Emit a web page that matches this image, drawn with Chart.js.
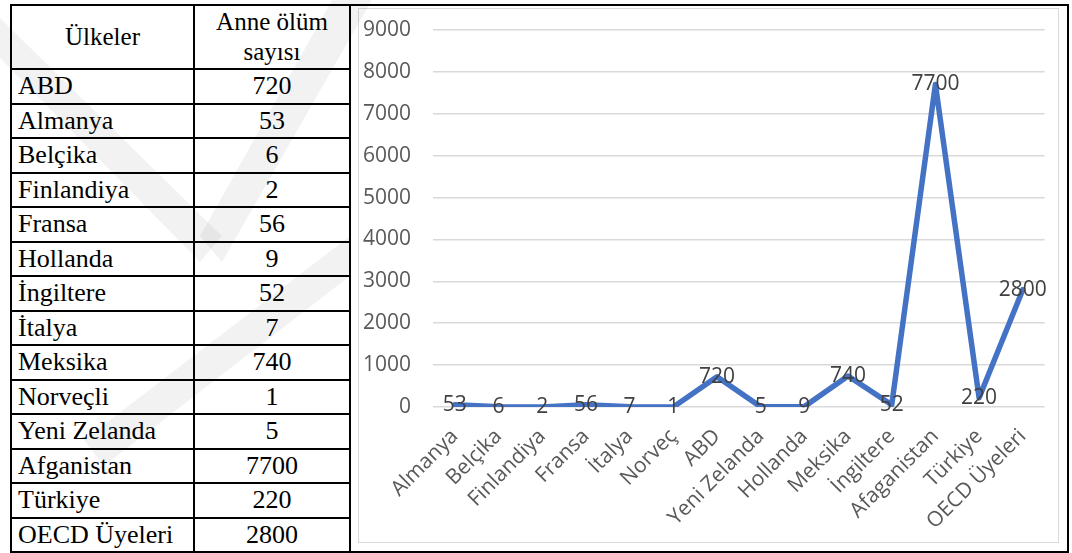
<!DOCTYPE html>
<html lang="tr">
<head>
<meta charset="utf-8">
<title>Anne ölüm sayısı</title>
<script src="https://cdn.jsdelivr.net/npm/chart.js@4"></script>
<style>
  html, body { margin: 0; padding: 0; background: #fff; }
  body { width: 1072px; height: 553px; position: relative; overflow: hidden; }
  #frame {
    position: absolute; left: 10px; top: 4px;
    border-collapse: collapse; table-layout: fixed;
    font-family: "Liberation Serif", "Times New Roman", serif;
    font-size: 26px; color: #000;
  }
  #frame td { border: 2px solid #000; padding: 0; line-height: 30px; overflow: hidden; white-space: nowrap; }
  #frame td.name { padding-left: 6px; }
  #frame td.num, #frame td.head { text-align: center; }
  #frame td.head { font-size: 25px; }
  #chart-box {
    position: absolute; left: 358px; top: 8px;
    width: 699px; height: 533px;
    border: 1px solid #d9d9d9; background: #fff;
  }
  #mark { position: absolute; left: 0; top: 0; pointer-events: none; }
</style>
</head>
<body>
<table id="frame">
  <colgroup><col style="width:183px"><col style="width:156px"><col style="width:718px"></colgroup>
  <tbody id="rows"></tbody>
</table>
<div id="chart-box"><canvas id="deathChart" width="699" height="533"></canvas></div>
<svg id="mark" width="1072" height="553">
  <g fill="#000" fill-opacity="0.05">
    <polygon points="0,18 0,58 200,262 222,236"/>
    <polygon points="332,0 372,0 222,262 200,236"/>
    <polygon points="350,236 350,276 104,466 84,440"/>
  </g>
</svg>

<script>
// table columns
const tableCountries = ['ABD', 'Almanya', 'Belçika', 'Finlandiya', 'Fransa', 'Hollanda', 'İngiltere',
  'İtalya', 'Meksika', 'Norveçli', 'Yeni Zelanda', 'Afganistan', 'Türkiye', 'OECD Üyeleri'];
const tableValues = [720, 53, 6, 2, 56, 9, 52, 7, 740, 1, 5, 7700, 220, 2800];

// line chart series
const chartCategories = ['Almanya', 'Belçika', 'Finlandiya', 'Fransa', 'İtalya', 'Norveç', 'ABD',
  'Yeni Zelanda', 'Hollanda', 'Meksika', 'İngiltere', 'Afaganistan', 'Türkiye', 'OECD Üyeleri'];
const chartValues = [53, 6, 2, 56, 7, 1, 720, 5, 9, 740, 52, 7700, 220, 2800];

const yMin = 0;
const yMax = 9000;
const yStep = 1000;

const rows = document.getElementById('rows');
let html = '<tr style="height:64px"><td class="head">Ülkeler</td><td class="head">Anne ölüm<br>sayısı</td>'
  + '<td rowspan="' + (tableCountries.length + 1) + '"></td></tr>';
tableCountries.forEach((c, i) => {
  html += '<tr style="height:34.5px"><td class="name">' + c + '</td><td class="num">' + tableValues[i] + '</td></tr>';
});
rows.innerHTML = html;

// value labels centred on each point
const pointLabels = {
  id: 'pointLabels',
  afterDatasetsDraw(chart) {
    const ctx = chart.ctx;
    const meta = chart.getDatasetMeta(0);
    ctx.save();
    ctx.font = '21px "Open Sans"';
    ctx.fillStyle = '#404040';
    ctx.textAlign = 'center';
    ctx.textBaseline = 'middle';
    meta.data.forEach((pt, i) => {
      ctx.fillText(String(chart.data.datasets[0].data[i]), pt.x, pt.y);
    });
    ctx.restore();
  }
};

new Chart(document.getElementById('deathChart'), {
  type: 'line',
  data: {
    labels: chartCategories,
    datasets: [{
      data: chartValues,
      borderColor: '#4472C4',
      borderWidth: 5.5,
      borderJoinStyle: 'round',
      borderCapStyle: 'round',
      pointRadius: 0,
      tension: 0,
      fill: false
    }]
  },
  options: {
    responsive: false,
    animation: false,
    layout: { padding: { top: 21, right: 11, left: 0, bottom: 0 } },
    plugins: { legend: { display: false }, tooltip: { enabled: false } },
    scales: {
      x: {
        offset: true,
        grid: { display: false, drawTicks: false },
        border: { display: false },
        ticks: {
          minRotation: 45, maxRotation: 45, padding: 17, autoSkip: false,
          color: '#595959', font: { family: 'Open Sans', size: 21 }
        },
        afterFit(scale) { scale.height = 135; }
      },
      y: {
        min: yMin, max: yMax,
        // invisible tick marks keep the labels clear of the plot
        grid: { color: '#d9d9d9', lineWidth: 1.5, drawTicks: true, tickLength: 22, tickColor: 'rgba(0,0,0,0)' },
        border: { display: false },
        ticks: {
          stepSize: yStep, padding: 0,
          color: '#595959', font: { family: 'Open Sans', size: 21 },
          callback: (v) => String(v)
        },
        afterFit(scale) { scale.width = 74; }
      }
    }
  },
  plugins: [pointLabels]
});
</script>
</body>
</html>
